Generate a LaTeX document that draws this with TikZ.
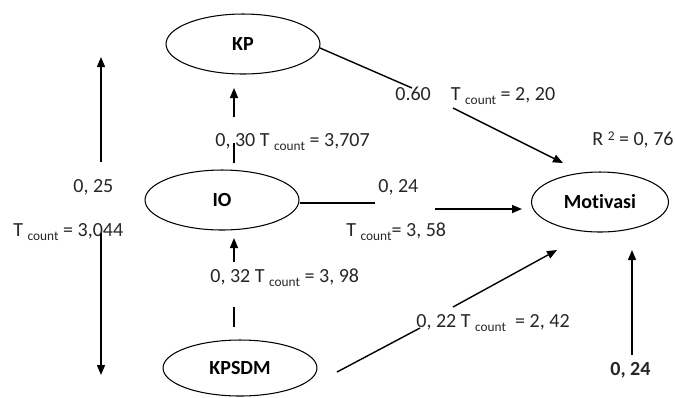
\documentclass[tikz,border=0pt]{standalone}
\usepackage{fontspec}
\setmainfont{Carlito}[Ligatures={NoCommon}]
\usetikzlibrary{positioning,shapes.geometric,arrows.meta}
\newcommand{\dfont}{\fontsize{11.4}{13}\selectfont}
\newcommand{\cnt}{\raisebox{-0.45ex}{\fontsize{7.6}{8}\selectfont count}}
\tikzset{
  var/.style={ellipse,draw=black,line width=0.6pt,minimum width=3.08cm,minimum height=1.2cm,font=\dfont\bfseries},
  lab/.style={anchor=west,inner sep=0pt,text=black!85,font=\dfont},
  edge/.style={draw=black,line width=0.8pt},
  arr/.style={edge,-{Triangle[length=2mm,width=1.6mm]}},
}

\begin{document}
\begin{tikzpicture}[x=0.02cm,y=-0.02cm]
\useasboundingbox (0,0) rectangle (675,397);
\node[var] (kp) at (243,44) {KP};
\node[var] (io) at (222,200) {IO};
\node[var,minimum height=1.12cm] (kpsdm) at (240,368) {KPSDM};
\node[var,minimum width=2.74cm] (mot) at (600,202) {Motivasi};
\node[lab] (l1) at (73,187) {0, 25};
\node[lab] (l2) at (13,232) {T \cnt\ = 3,044};
\node[lab] (l3) at (215,142) {0, 30 T \cnt\ = 3,707};
\node[lab] (l4) at (395,96) {0.60\quad T \cnt\ = 2, 20};
\node[lab] (l5) at (592,140) {R \raisebox{0.6ex}{\fontsize{7.6}{8}\selectfont 2} = 0, 76};
\node[lab] (l6) at (378,187) {0, 24};
\node[lab] (l7) at (346,232) {T \cnt= 3, 58};
\node[lab] (l8) at (210,278) {0, 32 T \cnt\ = 3, 98};
\node[lab] (l9) at (416,323) {0, 22 T \cnt\ \ = 2, 42};
\node[lab,font=\dfont\bfseries] (l10) at (610,370) {0, 24};
\coordinate (p1) at (101,162);
\coordinate (p2) at (101,57);
\coordinate (p3) at (101,233);
\coordinate (p4) at (101,375);
\coordinate (p5a) at (234,163);
\coordinate (p5) at (234,143);
\coordinate (p6) at (234,117);
\coordinate (p7) at (234,88);
\coordinate (p8a) at (234,327);
\coordinate (p8) at (234,307);
\coordinate (p9) at (234,262);
\coordinate (p10) at (234,238);
\coordinate (p11a) at (320,48);
\coordinate (p11) at (412,88);
\coordinate (p12) at (453,108);
\coordinate (p13) at (563,163);
\coordinate (p14) at (375,203);
\coordinate (p15) at (435,209);
\coordinate (p16) at (522,209);
\coordinate (p17a) at (337,372);
\coordinate (p17) at (420,328);
\coordinate (p18) at (453,307);
\coordinate (p19) at (557,250);
\coordinate (p20) at (632,355);
\coordinate (p21) at (632,250);
\draw[arr] (p1) -- (p2);
\draw[arr] (p3) -- (p4);
\draw[edge] (p5a) -- (p5);
\draw[arr] (p6) -- (p7);
\draw[edge] (p8a) -- (p8);
\draw[arr] (p9) -- (p10);
\draw[edge] (p11a) -- (p11);
\draw[arr] (p12) -- (p13);
\draw[edge] (io.east |- 0,203) -- (p14);
\draw[arr] (p15) -- (p16);
\draw[edge] (p17a) -- (p17);
\draw[arr] (p18) -- (p19);
\draw[arr] (p20) -- (p21);
\end{tikzpicture}
\end{document}
